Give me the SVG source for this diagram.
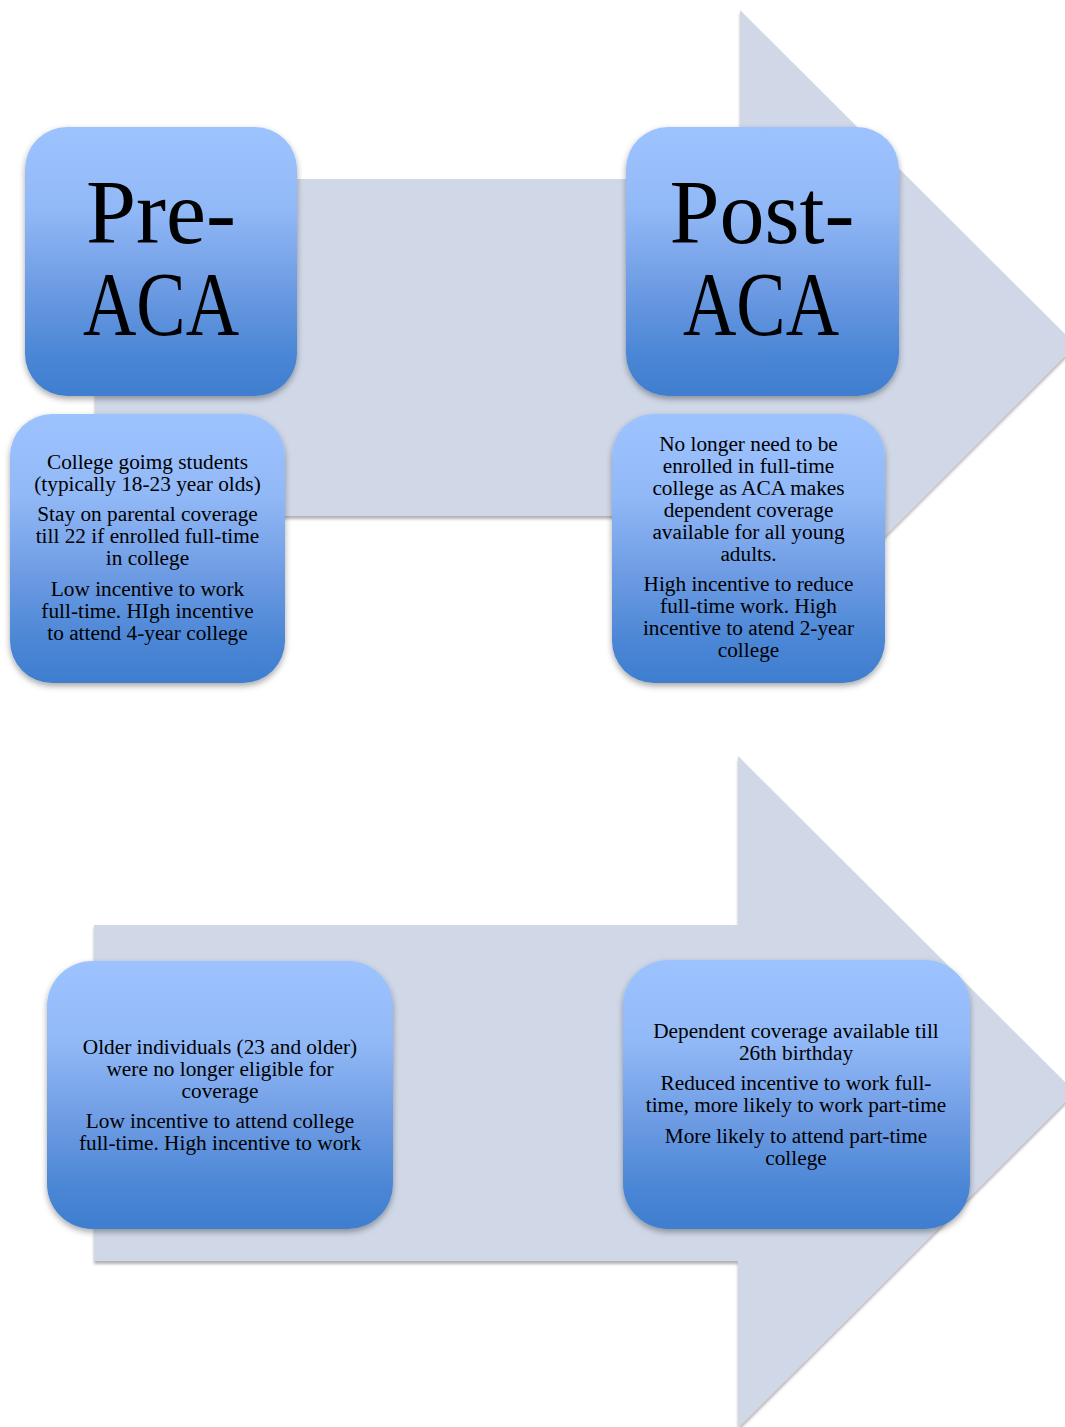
<svg xmlns="http://www.w3.org/2000/svg" width="1065" height="1427" viewBox="0 0 1065 1427">
  <defs>
    <linearGradient id="boxGrad" x1="0" y1="0" x2="0" y2="1">
      <stop offset="0" stop-color="#9DC3FF"/>
      <stop offset="0.3" stop-color="#92B9F7"/>
      <stop offset="0.6" stop-color="#6D9BE3"/>
      <stop offset="0.85" stop-color="#4A86D5"/>
      <stop offset="1" stop-color="#3F7ECF"/>
    </linearGradient>
    <filter id="boxShadow" x="-10%" y="-10%" width="120%" height="125%">
      <feDropShadow dx="0" dy="3" stdDeviation="3" flood-color="#000" flood-opacity="0.35"/>
    </filter>
    <filter id="arrowShadow" x="-5%" y="-5%" width="110%" height="110%">
      <feDropShadow dx="0" dy="3" stdDeviation="1.5" flood-color="#000" flood-opacity="0.3"/>
    </filter>
  </defs>
  <style>
    .arrow { fill: #D0D8E8; }
    .box { fill: url(#boxGrad); filter: url(#boxShadow); }
    .head { font-family: "Liberation Serif", "Times New Roman", serif; font-size: 90px; fill: #000; text-anchor: middle; }
    .body { font-family: "Liberation Serif", "Times New Roman", serif; font-size: 21.3px; fill: #000; text-anchor: middle; }
  </style>
  <rect width="1065" height="1427" fill="#FFFFFF"/>

  <g id="connectors">
    <path id="arrow-top" class="arrow" filter="url(#arrowShadow)" d="M95,179 L740,179 L740,10 L1076,345 L740,680 L740,516 L95,516 Z"/>
    <path id="arrow-bottom" class="arrow" filter="url(#arrowShadow)" d="M94,925 L738,925 L738,756 L1075,1092 L738,1428 L738,1261 L94,1261 Z"/>
  </g>

  <g id="pre-aca">
    <rect class="box" x="25" y="127" width="272" height="269" rx="42" ry="42"/>
    <text class="head" x="161" y="243">Pre-</text>
    <text class="head" x="161" y="335" textLength="156" lengthAdjust="spacingAndGlyphs">ACA</text>
  </g>

  <g id="post-aca">
    <rect class="box" x="626" y="127" width="273" height="269" rx="42" ry="42"/>
    <text class="head" x="762" y="243">Post-</text>
    <text class="head" x="761" y="335" textLength="156" lengthAdjust="spacingAndGlyphs">ACA</text>
  </g>

  <g id="pre-students">
    <rect class="box" x="10" y="414" width="275" height="269" rx="42" ry="42"/>
    <text class="body" x="147.5" y="469">College goimg students</text>
    <text class="body" x="147.5" y="491">(typically 18-23 year olds)</text>
    <text class="body" x="147.5" y="521">Stay on parental coverage</text>
    <text class="body" x="147.5" y="543">till 22 if enrolled full-time</text>
    <text class="body" x="147.5" y="565">in college</text>
    <text class="body" x="147.5" y="596">Low incentive to work</text>
    <text class="body" x="147.5" y="618">full-time. HIgh incentive</text>
    <text class="body" x="147.5" y="640">to attend 4-year college</text>
  </g>

  <g id="post-students">
    <rect class="box" x="612" y="414" width="273" height="269" rx="42" ry="42"/>
    <text class="body" x="748.5" y="451">No longer need to be</text>
    <text class="body" x="748.5" y="473">enrolled in full-time</text>
    <text class="body" x="748.5" y="495">college as ACA makes</text>
    <text class="body" x="748.5" y="517">dependent coverage</text>
    <text class="body" x="748.5" y="539">available for all young</text>
    <text class="body" x="748.5" y="561">adults.</text>
    <text class="body" x="748.5" y="591">High incentive to reduce</text>
    <text class="body" x="748.5" y="613">full-time work. High</text>
    <text class="body" x="748.5" y="635">incentive to atend 2-year</text>
    <text class="body" x="748.5" y="657">college</text>
  </g>

  <g id="pre-older">
    <rect class="box" x="47" y="961" width="346" height="268" rx="45" ry="45"/>
    <text class="body" x="220" y="1054">Older individuals (23 and older)</text>
    <text class="body" x="220" y="1076">were no longer eligible for</text>
    <text class="body" x="220" y="1098">coverage</text>
    <text class="body" x="220" y="1128">Low incentive to attend college</text>
    <text class="body" x="220" y="1150">full-time. High incentive to work</text>
  </g>

  <g id="post-older">
    <rect class="box" x="623" y="960" width="347" height="269" rx="45" ry="45"/>
    <text class="body" x="796" y="1038">Dependent coverage available till</text>
    <text class="body" x="796" y="1060">26th birthday</text>
    <text class="body" x="796" y="1090">Reduced incentive to work full-</text>
    <text class="body" x="796" y="1112">time, more likely to work part-time</text>
    <text class="body" x="796" y="1143">More likely to attend part-time</text>
    <text class="body" x="796" y="1165">college</text>
  </g>
</svg>
